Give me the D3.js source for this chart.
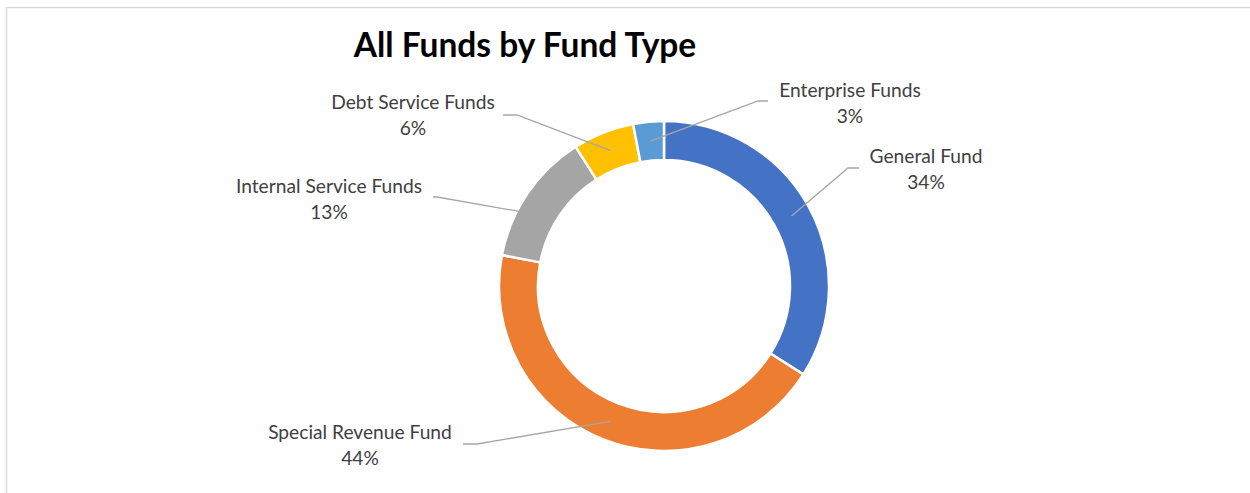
<!DOCTYPE html>
<html>
<head>
<meta charset="utf-8">
<script src="https://cdn.jsdelivr.net/npm/d3@7"></script>
<style>
  html, body { margin: 0; padding: 0; background: #fff; }
  svg { display: block; }
</style>
</head>
<body>
<svg id="chart" width="1250" height="493"></svg>
<script>
// Fund types and their share of all funds (percent)
const categories = ["General Fund", "Special Revenue Fund", "Internal Service Funds", "Debt Service Funds", "Enterprise Funds"];
const shares = [34, 44, 13, 6, 3];
const colors = ["#4472C4", "#ED7D31", "#A5A5A5", "#FFC000", "#5B9BD5"];

// Label placement: text centre x, first baseline y, leader stub (x0 -> x1 at y), leader target tweak
const labelLayout = [
  { tx: 926, ty: 163, sx0: 859, sx1: 848, sy: 168, shift: 0,    r: 145.5 },
  { tx: 360, ty: 439, sx0: 463, sx1: 477, sy: 444, shift: 0,    r: 145.5 },
  { tx: 329, ty: 193, sx0: 433, sx1: 437, sy: 197, shift: -3.7, r: 138 },
  { tx: 413, ty: 109, sx0: 503, sx1: 517, sy: 115, shift: 0,    r: 145.5 },
  { tx: 850, ty: 97,  sx0: 768, sx1: 758, sy: 101, shift: 0,    r: 145.5 }
];

const svg = d3.select("#chart");
const W = 1250, H = 493;
const cx = 664, cy = 286;
const outerR = 165, innerR = 126;

// Chart area border (only top and left edges fall inside the view)
svg.append("rect")
  .attr("x", 6.5).attr("y", 7.5)
  .attr("width", W + 20).attr("height", H + 20)
  .attr("fill", "#fff")
  .attr("stroke", "#D9D9D9")
  .attr("stroke-width", 1.5);

// Title
svg.append("text")
  .attr("x", 525).attr("y", 57)
  .attr("text-anchor", "middle")
  .attr("font-family", "Lato, 'Open Sans', sans-serif")
  .attr("font-weight", "bold")
  .attr("font-size", 33.5)
  .attr("fill", "#000")
  .text("All Funds by Fund Type");

const data = categories.map((c, i) => ({ name: c, value: shares[i], color: colors[i], layout: labelLayout[i] }));

const pie = d3.pie().sort(null).value(d => d.value).startAngle(0).endAngle(2 * Math.PI);
const arc = d3.arc().innerRadius(innerR).outerRadius(outerR);
const arcs = pie(data);

const g = svg.append("g").attr("transform", `translate(${cx},${cy})`);

g.selectAll("path.slice")
  .data(arcs)
  .enter().append("path")
  .attr("class", "slice")
  .attr("d", arc)
  .attr("fill", d => d.data.color)
  .attr("stroke", "#fff")
  .attr("stroke-width", 2.5)
  .attr("stroke-linejoin", "miter");

// Leader lines from each label to its ring segment
const line = d3.line();
svg.selectAll("path.leader")
  .data(arcs)
  .enter().append("path")
  .attr("class", "leader")
  .attr("fill", "none")
  .attr("stroke", "#A6A6A6")
  .attr("stroke-width", 1.3)
  .attr("d", d => {
    const L = d.data.layout;
    const mid = (d.startAngle + d.endAngle) / 2 + L.shift * Math.PI / 180;
    const [px, py] = d3.pointRadial(mid, L.r);
    return line([[L.sx0, L.sy], [L.sx1, L.sy], [cx + px, cy + py]]);
  });

// Category and percentage labels
const labels = svg.selectAll("text.lbl")
  .data(arcs)
  .enter().append("text")
  .attr("class", "lbl")
  .attr("text-anchor", "middle")
  .attr("font-family", "Lato, 'Open Sans', sans-serif")
  .attr("font-size", 19.2)
  .attr("fill", "#404040");

labels.append("tspan")
  .attr("x", d => d.data.layout.tx)
  .attr("y", d => d.data.layout.ty)
  .text(d => d.data.name);

labels.append("tspan")
  .attr("x", d => d.data.layout.tx)
  .attr("y", d => d.data.layout.ty + 25.5)
  .text(d => d.data.value + "%");
</script>
</body>
</html>
